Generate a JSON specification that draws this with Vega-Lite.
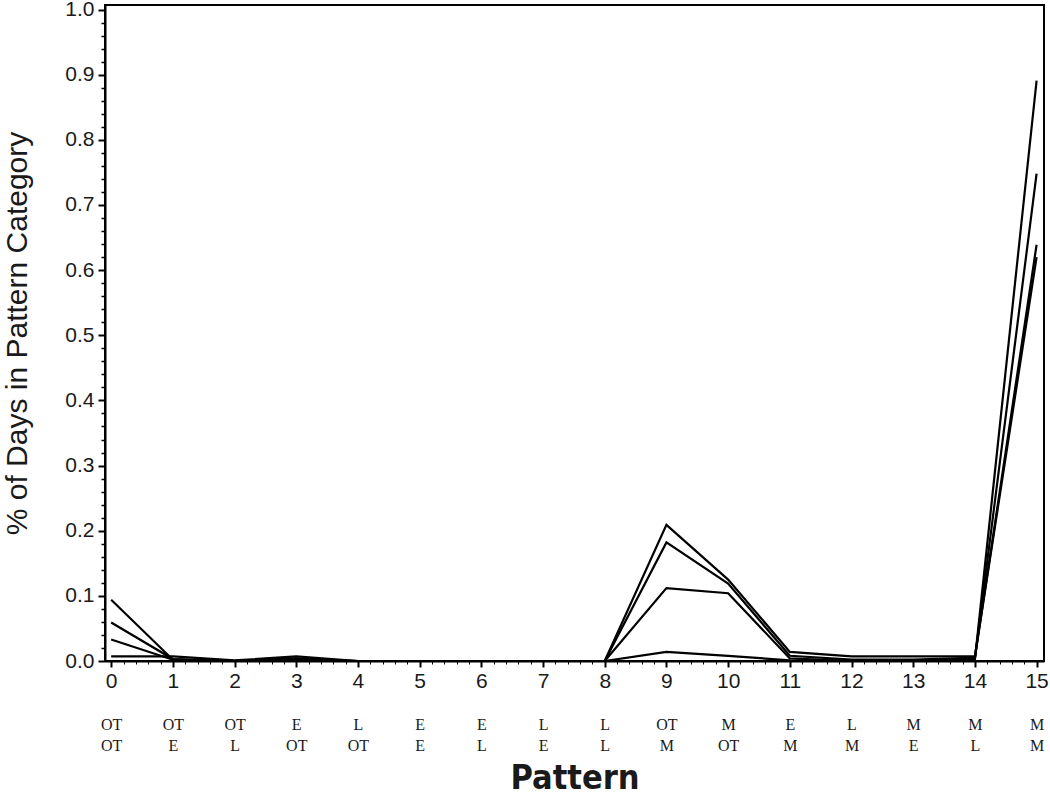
{
  "$schema": "https://vega.github.io/schema/vega-lite/v6.json",
  "autosize": "none",
  "width": 939,
  "height": 656,
  "padding": {"left": 105, "top": 5, "right": 6, "bottom": 139},
  "background": "white",
  "config": {
    "view": {"stroke": "black", "strokeWidth": 2},
    "axis": {"labelFont": "Liberation Sans", "titleFont": "Liberation Sans", "labelColor": "#1a1a1a", "titleColor": "#1a1a1a", "tickColor": "black", "domainColor": "black", "grid": false}
  },
  "data": {
    "values": [
      {"pattern": 0, "series": "S1", "pct": 0.094},
      {"pattern": 1, "series": "S1", "pct": 0.002},
      {"pattern": 2, "series": "S1", "pct": 0.0},
      {"pattern": 3, "series": "S1", "pct": 0.0},
      {"pattern": 4, "series": "S1", "pct": 0.0},
      {"pattern": 5, "series": "S1", "pct": 0.0},
      {"pattern": 6, "series": "S1", "pct": 0.0},
      {"pattern": 7, "series": "S1", "pct": 0.0},
      {"pattern": 8, "series": "S1", "pct": 0.0},
      {"pattern": 9, "series": "S1", "pct": 0.014},
      {"pattern": 10, "series": "S1", "pct": 0.008},
      {"pattern": 11, "series": "S1", "pct": 0.001},
      {"pattern": 12, "series": "S1", "pct": 0.0},
      {"pattern": 13, "series": "S1", "pct": 0.0},
      {"pattern": 14, "series": "S1", "pct": 0.002},
      {"pattern": 15, "series": "S1", "pct": 0.891},
      {"pattern": 0, "series": "S2", "pct": 0.007},
      {"pattern": 1, "series": "S2", "pct": 0.007},
      {"pattern": 2, "series": "S2", "pct": 0.001},
      {"pattern": 3, "series": "S2", "pct": 0.007},
      {"pattern": 4, "series": "S2", "pct": 0.0},
      {"pattern": 5, "series": "S2", "pct": 0.0},
      {"pattern": 6, "series": "S2", "pct": 0.0},
      {"pattern": 7, "series": "S2", "pct": 0.0},
      {"pattern": 8, "series": "S2", "pct": 0.0},
      {"pattern": 9, "series": "S2", "pct": 0.209},
      {"pattern": 10, "series": "S2", "pct": 0.125},
      {"pattern": 11, "series": "S2", "pct": 0.014},
      {"pattern": 12, "series": "S2", "pct": 0.007},
      {"pattern": 13, "series": "S2", "pct": 0.007},
      {"pattern": 14, "series": "S2", "pct": 0.007},
      {"pattern": 15, "series": "S2", "pct": 0.62},
      {"pattern": 0, "series": "S3", "pct": 0.059},
      {"pattern": 1, "series": "S3", "pct": 0.003},
      {"pattern": 2, "series": "S3", "pct": 0.0},
      {"pattern": 3, "series": "S3", "pct": 0.004},
      {"pattern": 4, "series": "S3", "pct": 0.0},
      {"pattern": 5, "series": "S3", "pct": 0.0},
      {"pattern": 6, "series": "S3", "pct": 0.0},
      {"pattern": 7, "series": "S3", "pct": 0.0},
      {"pattern": 8, "series": "S3", "pct": 0.0},
      {"pattern": 9, "series": "S3", "pct": 0.182},
      {"pattern": 10, "series": "S3", "pct": 0.119},
      {"pattern": 11, "series": "S3", "pct": 0.008},
      {"pattern": 12, "series": "S3", "pct": 0.002},
      {"pattern": 13, "series": "S3", "pct": 0.002},
      {"pattern": 14, "series": "S3", "pct": 0.005},
      {"pattern": 15, "series": "S3", "pct": 0.639},
      {"pattern": 0, "series": "S4", "pct": 0.033},
      {"pattern": 1, "series": "S4", "pct": 0.002},
      {"pattern": 2, "series": "S4", "pct": 0.0},
      {"pattern": 3, "series": "S4", "pct": 0.002},
      {"pattern": 4, "series": "S4", "pct": 0.0},
      {"pattern": 5, "series": "S4", "pct": 0.0},
      {"pattern": 6, "series": "S4", "pct": 0.0},
      {"pattern": 7, "series": "S4", "pct": 0.0},
      {"pattern": 8, "series": "S4", "pct": 0.0},
      {"pattern": 9, "series": "S4", "pct": 0.112},
      {"pattern": 10, "series": "S4", "pct": 0.104},
      {"pattern": 11, "series": "S4", "pct": 0.004},
      {"pattern": 12, "series": "S4", "pct": 0.0},
      {"pattern": 13, "series": "S4", "pct": 0.001},
      {"pattern": 14, "series": "S4", "pct": 0.004},
      {"pattern": 15, "series": "S4", "pct": 0.748}
    ]
  },
  "resolve": {"axis": {"x": "independent", "y": "independent"}},
  "layer": [
    {
      "mark": {"type": "line", "color": "black", "strokeWidth": 2.2, "clip": true},
      "encoding": {
        "x": {"field": "pattern", "type": "quantitative",
          "scale": {"domain": [-0.1, 15.12], "nice": false, "zero": false},
          "axis": {"orient": "bottom", "values": [0,1,2,3,4,5,6,7,8,9,10,11,12,13,14,15], "title": null, "labelFontSize": 21, "tickSize": 6, "tickWidth": 2, "domainWidth": 2, "labelPadding": 3, "labelFlush": false}},
        "y": {"field": "pct", "type": "quantitative",
          "scale": {"domain": [0, 1.007], "nice": false},
          "axis": {"orient": "left", "values": [0,0.1,0.2,0.3,0.4,0.5,0.6,0.7,0.8,0.9,1.0], "format": ".1f", "title": "% of Days in Pattern Category", "titleFontSize": 30, "titleFontWeight": "normal", "labelFontSize": 21, "tickSize": 7, "tickWidth": 2, "domainWidth": 2, "labelPadding": 4, "titlePadding": 32, "labelFlush": false}},
        "detail": {"field": "series", "type": "nominal"}
      }
    },
    {
      "mark": {"type": "line", "opacity": 0},
      "encoding": {
        "x": {"field": "pattern", "type": "quantitative",
          "axis": {"orient": "bottom", "values": [0,1,2,3,4,5,6,7,8,9,10,11,12,13,14,15],
            "labelExpr": "[['OT','OT'],['OT','E'],['OT','L'],['E','OT'],['L','OT'],['E','E'],['E','L'],['L','E'],['L','L'],['OT','M'],['M','OT'],['E','M'],['L','M'],['M','E'],['M','L'],['M','M']][datum.value]",
            "labelFont": "Liberation Serif", "labelFontSize": 16, "labelLineHeight": 21, "labelColor": "#1a1a1a",
            "domain": false, "ticks": false, "tickSize": 0, "offset": 55, "labelPadding": 0, "labelFlush": false,
            "title": "Pattern", "titleFont": "'Liberation Sans Narrow', 'DejaVu Sans Condensed', 'Liberation Sans', sans-serif", "titleFontWeight": "bold", "titleFontSize": 34, "titlePadding": 8}},
        "y": {"field": "pct", "type": "quantitative",
          "axis": {"orient": "left", "values": [0.02,0.04,0.06,0.08,0.12,0.14,0.16,0.18,0.22,0.24,0.26,0.28,0.32,0.34,0.36,0.38,0.42,0.44,0.46,0.48,0.52,0.54,0.56,0.58,0.62,0.64,0.66,0.68,0.72,0.74,0.76,0.78,0.82,0.84,0.86,0.88,0.92,0.94,0.96,0.98], "labels": false, "domain": false, "title": null, "tickSize": 4, "tickWidth": 1.5}},
        "detail": {"field": "series", "type": "nominal"}
      }
    },
    {
      "mark": {"type": "line", "opacity": 0},
      "encoding": {
        "x": {"field": "pattern", "type": "quantitative",
          "axis": {"orient": "bottom", "values": [0.2,0.4,0.6,0.8,1.2,1.4,1.6,1.8,2.2,2.4,2.6,2.8,3.2,3.4,3.6,3.8,4.2,4.4,4.6,4.8,5.2,5.4,5.6,5.8,6.2,6.4,6.6,6.8,7.2,7.4,7.6,7.8,8.2,8.4,8.6,8.8,9.2,9.4,9.6,9.8,10.2,10.4,10.6,10.8,11.2,11.4,11.6,11.8,12.2,12.4,12.6,12.8,13.2,13.4,13.6,13.8,14.2,14.4,14.6,14.8],
            "labels": false, "domain": false, "title": null, "tickSize": 3, "tickWidth": 1}},
        "y": {"field": "pct", "type": "quantitative", "axis": null},
        "detail": {"field": "series", "type": "nominal"}
      }
    }
  ]
}
